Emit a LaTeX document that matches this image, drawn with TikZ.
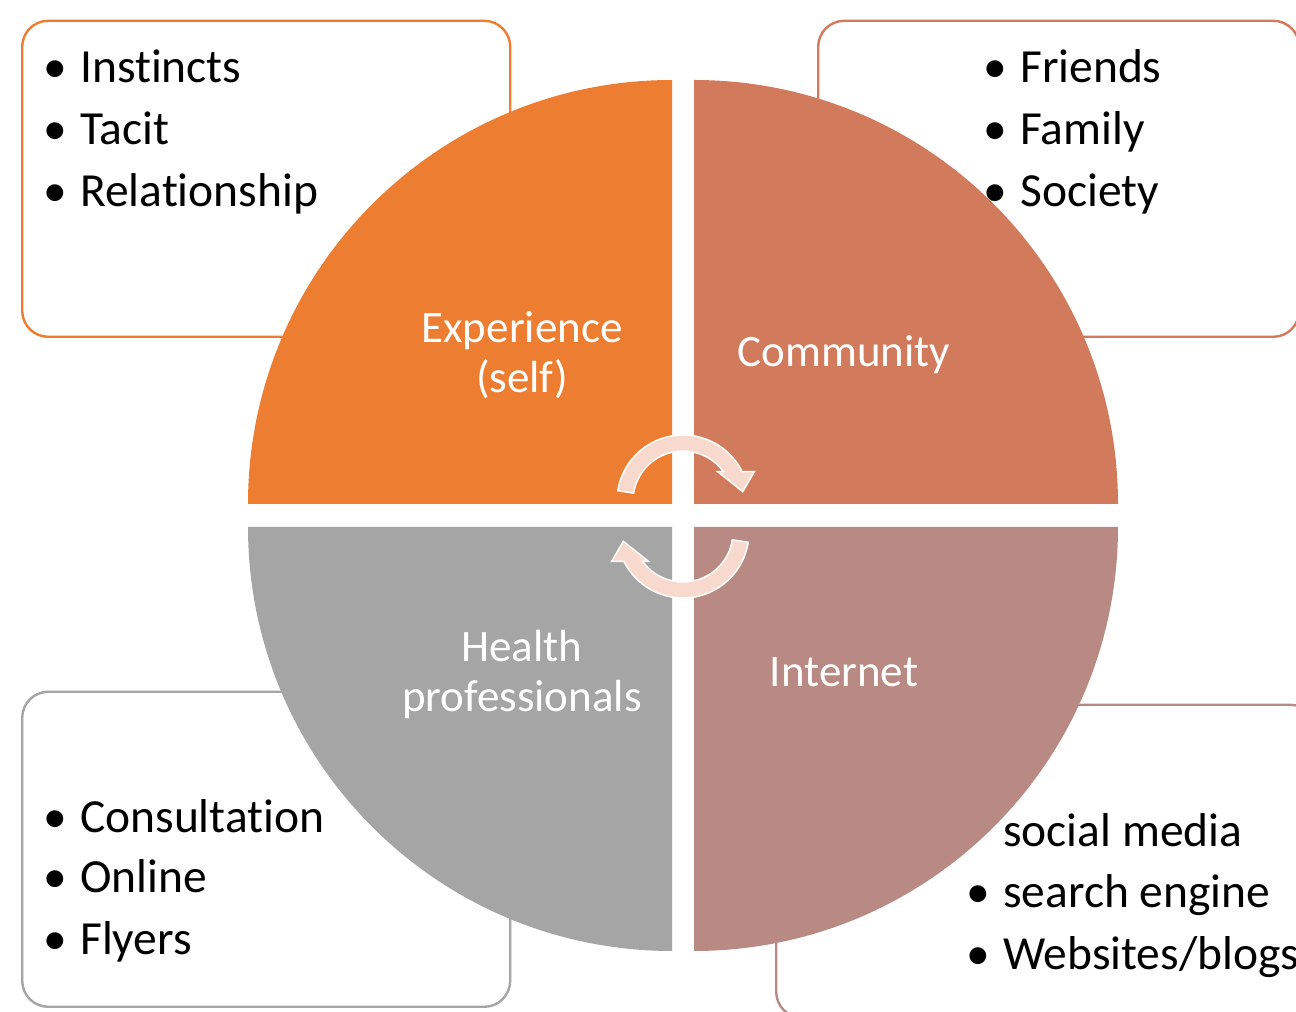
\documentclass[tikz,border=0pt]{standalone}
\usepackage{fontspec}
\setmainfont[Ligatures=NoCommon]{Carlito}
\definecolor{qOrange}{HTML}{ED7D31}
\definecolor{qTerra}{HTML}{D17A5C}
\definecolor{qRose}{HTML}{B98A83}
\definecolor{qGray}{HTML}{A5A5A5}
\definecolor{arrowPink}{HTML}{F7D9CE}
\tikzset{
  infobox/.style={draw=#1, line width=2.4pt, rounded corners=26pt, fill=white, inner sep=0pt, anchor=south west},
  listtext/.style={anchor=base west, inner sep=0pt, text=black, font=\fontsize{47.5}{62}\selectfont},
  bulletmark/.style={anchor=base, inner sep=0pt, text=black, font=\fontsize{47.5}{62}\selectfont},
  quadlabel/.style={anchor=base, inner sep=0pt, text=white, align=center, font=\fontsize{45}{50}\selectfont},
  cyclearrow/.style={fill=arrowPink, draw=white, line width=1.5pt, line join=miter}
}
\begin{document}
\begin{tikzpicture}[x=1pt,y=1pt]
\useasboundingbox (0,0) rectangle (1296,1012);
\clip (0,0) rectangle (1296,1012);
\fill[white] (0,0) rectangle (1296,1012);

% side boxes
\node[infobox=qOrange, minimum width=488pt, minimum height=316pt] (boxTL) at (21,674) {};
\node[infobox=qTerra,  minimum width=481pt, minimum height=316pt] (boxTR) at (817,674) {};
\node[infobox=qGray,   minimum width=488pt, minimum height=315pt] (boxBL) at (21,4) {};
\node[infobox=qRose,   minimum width=540pt, minimum height=313pt] (boxBR) at (775,-7) {};

% quadrants
\fill[qOrange] (672,508) -- (248,508) arc[start angle=180, end angle=90, radius=424] -- cycle;
\fill[qTerra]  (694,508) -- (694,932) arc[start angle=90, end angle=0, radius=424] -- cycle;
\fill[qGray]   (672,485) -- (672,61) arc[start angle=270, end angle=180, radius=424] -- cycle;
\fill[qRose]   (694,485) -- (1118,485) arc[start angle=0, end angle=-90, radius=424] -- cycle;

% quadrant labels (base anchor = last line)
\node[quadlabel] (lblExp) at (522,619) {Experience\\(self)};
\node[quadlabel] (lblCom) at (844,645) {Community};
\node[quadlabel] (lblHea) at (522,300) {Health\\professionals};
\node[quadlabel] (lblInt) at (844,325) {Internet};

% cycle arrows
\path[cyclearrow] (683,511) ++(171:66) arc[start angle=171, end angle=26.4, radius=66]
   -- (754.3,540.3) -- (742.7,520.3) -- (717.7,540.3) -- (723.5,540.3)
   arc[start angle=35.9, end angle=171, radius=50] -- cycle;
\path[cyclearrow, rotate around={180:(683,495.5)}] (683,511) ++(171:66) arc[start angle=171, end angle=26.4, radius=66]
   -- (754.3,540.3) -- (742.7,520.3) -- (717.7,540.3) -- (723.5,540.3)
   arc[start angle=35.9, end angle=171, radius=50] -- cycle;

% top-left list
\node[bulletmark] (bTL1) at (55,929) {•};
\node[bulletmark] (bTL2) at (55,867) {•};
\node[bulletmark] (bTL3) at (55,805) {•};
\node[listtext] (tTL1) at (80,929) {Instincts};
\node[listtext] (tTL2) at (80,867) {Tacit};
\node[listtext] (tTL3) at (80,805) {Relationship};

% top-right list
\node[bulletmark] (bTR1) at (995,929) {•};
\node[bulletmark] (bTR2) at (995,867) {•};
\node[bulletmark] (bTR3) at (995,805) {•};
\node[listtext] (tTR1) at (1020,929) {Friends};
\node[listtext] (tTR2) at (1020,867) {Family};
\node[listtext] (tTR3) at (1020,805) {Society};

% bottom-left list
\node[bulletmark] (bBL1) at (55,179) {•};
\node[bulletmark] (bBL2) at (55,119) {•};
\node[bulletmark] (bBL3) at (55,57) {•};
\node[listtext] (tBL1) at (80,179) {Consultation};
\node[listtext] (tBL2) at (80,119) {Online};
\node[listtext] (tBL3) at (80,57) {Flyers};

% bottom-right list
\node[listtext] (tBR1) at (1003,165) {social media};
\node[bulletmark] (bBR2) at (978,104) {•};
\node[bulletmark] (bBR3) at (978,42) {•};
\node[listtext] (tBR2) at (1003,104) {search engine};
\node[listtext] (tBR3) at (1003,42) {Websites/blogs};
\end{tikzpicture}
\end{document}
